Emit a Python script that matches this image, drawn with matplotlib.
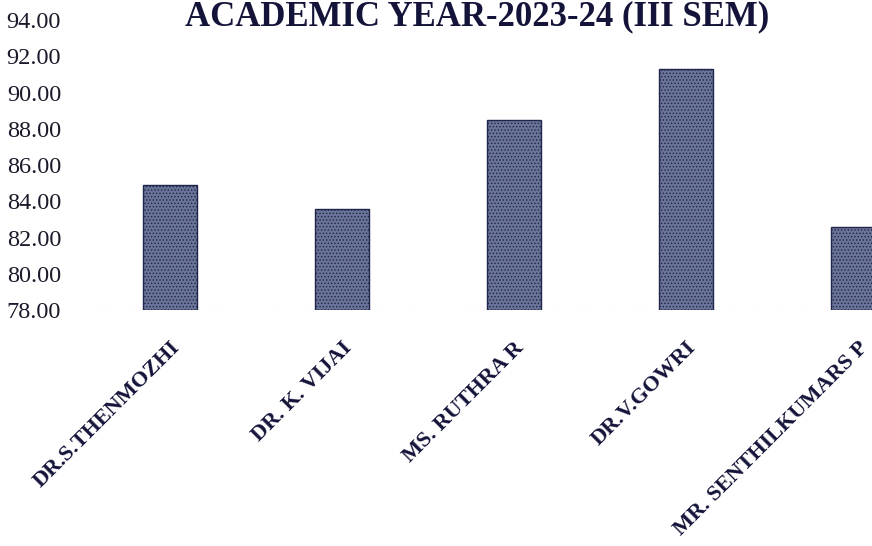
import matplotlib
matplotlib.use("Agg")
import matplotlib.pyplot as plt

title = "ACADEMIC YEAR-2023-24 (III SEM)"
teachers = ["DR.S.THENMOZHI", "DR. K. VIJAI", "MS. RUTHRA R", "DR.V.GOWRI", "MR. SENTHILKUMARS P"]
scores = [84.9, 83.6, 88.5, 91.3, 82.6]
y_ticks = [78, 80, 82, 84, 86, 88, 90, 92, 94]

plt.rcParams['font.family'] = ['Liberation Serif', 'DejaVu Serif']
plt.rcParams['hatch.linewidth'] = 0.6

fig = plt.figure(figsize=(8.72, 5.46), dpi=100)
ax = fig.add_axes([0.086, 0.432, 0.914, 0.531])

x = list(range(len(teachers)))
ax.bar(x, [s - 78 for s in scores], bottom=78, width=0.314,
       color='#6a7398', edgecolor='#1f2648', hatch='.....', linewidth=1.0)

ax.set_ylim(78, 94)
ax.set_xlim(-0.55, 4.084)
ax.set_yticks(y_ticks)
ax.set_yticklabels([f"{v:.2f}" for v in y_ticks], fontsize=17.5, color='#1a1a2a')
ax.set_xticks(x)
ax.set_xticklabels(teachers, rotation=45, ha='right', rotation_mode='anchor',
                   fontsize=16, fontweight='bold', color='#14143a')
ax.tick_params(axis='both', length=0)
ax.tick_params(axis='x', pad=20)
ax.tick_params(axis='y', pad=10)
for s in ax.spines.values():
    s.set_visible(False)
ax.axhline(78, color='#bbbbbb', lw=0.8, ls=':', zorder=0)

fig.text(0.547, 0.953, title, ha='center', va='baseline', fontsize=25,
         fontweight='bold', color='#14143a')

fig.savefig("out.png", dpi=100)
